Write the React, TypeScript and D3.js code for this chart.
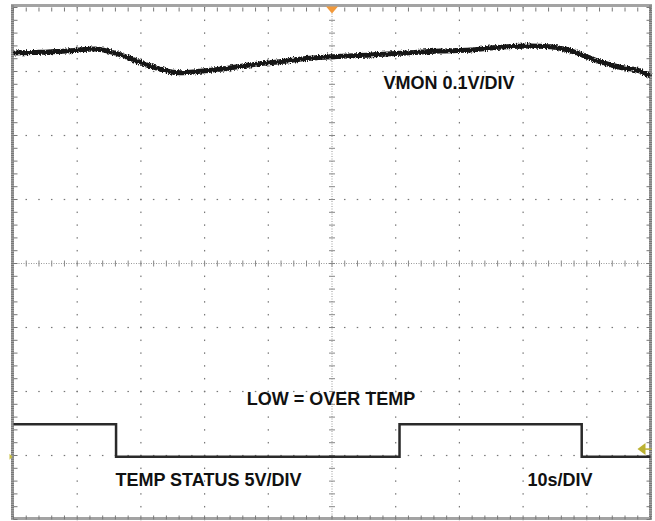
import React, { useRef, useEffect } from 'react';
import * as d3 from 'd3';

// VMON trace: time (s) and level (divisions from screen centre, 0.1V/DIV)
const vmonTime = [0, 4.2, 8.9, 12.8, 15.1, 18.3, 21.4, 24.6, 26.1, 29.3, 32.4, 37.1, 41.8, 46.5, 50.2, 56.0, 60.7, 66.9, 71.7, 76.4, 81.1, 84.2, 86.6, 88.9, 92.0, 95.2, 98.3, 100];
const vmonLevel = [3.29, 3.3, 3.325, 3.35, 3.31, 3.206, 3.086, 2.997, 2.981, 3.003, 3.034, 3.102, 3.153, 3.206, 3.231, 3.258, 3.284, 3.32, 3.336, 3.378, 3.398, 3.388, 3.347, 3.273, 3.153, 3.066, 3.008, 2.93];

// TEMP STATUS: step changes (time in s), 1 = high, 0 = low (5V/DIV)
const tempTime = [0, 16.1, 60.6, 89.2, 100];
const tempState = [1, 0, 1, 0, 0];
const tempHigh = -2.51;
const tempLow = -3.02;

const triggerLevel = -2.9;
const ch2Ground = -3.02;
const triggerTime = 50;

const labels = [
  { text: 'VMON 0.1V/DIV', t: 58.1, v: 2.73 },
  { text: 'LOW = OVER TEMP', t: 36.6, v: -2.215 },
  { text: 'TEMP STATUS 5V/DIV', t: 16.0, v: -3.47 },
  { text: '10s/DIV', t: 80.7, v: -3.47 },
];

const W = 655;
const H = 521;

const App = () => {
  const svgRef = useRef<SVGSVGElement>(null);

  useEffect(() => {
    const svg = d3.select(svgRef.current).attr('width', W).attr('height', H);
    svg.selectAll('*').remove();

    const x = d3.scaleLinear().domain([0, 100]).range([13.5, 650.5]);
    const y = d3.scaleLinear().domain([-4, 4]).range([519.5, 7.5]);

    svg.append('rect').attr('width', W).attr('height', H).attr('fill', '#fff');

    // rough look for the noisy trace
    const defs = svg.append('defs');
    const f = defs.append('filter').attr('id', 'noise').attr('x', '-5%').attr('y', '-50%').attr('width', '110%').attr('height', '200%');
    f.append('feTurbulence').attr('type', 'fractalNoise').attr('baseFrequency', '1.2 0.5').attr('numOctaves', 2).attr('seed', 3).attr('result', 'n');
    f.append('feDisplacementMap').attr('in', 'SourceGraphic').attr('in2', 'n').attr('scale', 4.5).attr('xChannelSelector', 'R').attr('yChannelSelector', 'G');

    const grid = svg.append('g');
    const minorT = d3.range(0, 100.001, 2);
    const minorV = d3.range(-4, 4.001, 0.2);

    // dotted graticule
    d3.range(10, 100, 10).filter(t => t !== 50).forEach(t => {
      grid.selectAll(null).data(minorV).enter().append('rect')
        .attr('x', x(t) - 0.6).attr('y', d => y(d) - 0.75)
        .attr('width', 1.2).attr('height', 1.5).attr('fill', '#777');
    });
    d3.range(-3, 4, 1).filter(v => v !== 0).forEach(v => {
      grid.selectAll(null).data(minorT).enter().append('rect')
        .attr('x', d => x(d) - 0.75).attr('y', y(v) - 0.6)
        .attr('width', 1.5).attr('height', 1.2).attr('fill', '#777');
    });

    // centre crosshair
    grid.append('line').attr('x1', x(0)).attr('x2', x(100)).attr('y1', y(0)).attr('y2', y(0))
      .attr('stroke', '#999').attr('stroke-width', 1).attr('stroke-dasharray', '1,1.5');
    grid.append('line').attr('x1', x(50)).attr('x2', x(50)).attr('y1', y(-4)).attr('y2', y(4))
      .attr('stroke', '#999').attr('stroke-width', 1).attr('stroke-dasharray', '1,1.5');
    grid.selectAll(null).data(minorT).enter().append('line')
      .attr('x1', d => x(d)).attr('x2', d => x(d)).attr('y1', y(0) - 3).attr('y2', y(0) + 3)
      .attr('stroke', '#888').attr('stroke-width', 1);
    grid.selectAll(null).data(minorV).enter().append('line')
      .attr('x1', x(50) - 3).attr('x2', x(50) + 3).attr('y1', d => y(d)).attr('y2', d => y(d))
      .attr('stroke', '#888').attr('stroke-width', 1);

    // border with ruler ticks
    grid.append('rect').attr('x', x(0) - 1).attr('y', y(4) - 2).attr('width', x(100) - x(0) + 1).attr('height', y(-4) - y(4) + 1)
      .attr('fill', 'none').attr('stroke', '#a3a3a3').attr('stroke-width', 3);
    grid.append('path')
      .attr('d', `M${x(0) - 1},${y(4) - 2}V${y(-4) - 1}M${x(100)},${y(4) - 2}V${y(-4) - 1}`)
      .attr('stroke', '#777').attr('stroke-width', 3).attr('stroke-dasharray', '1,1.2');
    grid.selectAll(null).data(minorT).enter().append('line')
      .attr('x1', d => x(d)).attr('x2', d => x(d)).attr('y1', y(4)).attr('y2', y(4) + 4)
      .attr('stroke', '#777').attr('stroke-width', 1);
    grid.selectAll(null).data(minorT).enter().append('line')
      .attr('x1', d => x(d)).attr('x2', d => x(d)).attr('y1', y(-4)).attr('y2', y(-4) - 4)
      .attr('stroke', '#777').attr('stroke-width', 1);
    grid.selectAll(null).data(minorV).enter().append('line')
      .attr('x1', x(0)).attr('x2', x(0) + 4).attr('y1', d => y(d)).attr('y2', d => y(d))
      .attr('stroke', '#777').attr('stroke-width', 1);
    grid.selectAll(null).data(minorV).enter().append('line')
      .attr('x1', x(100)).attr('x2', x(100) - 4).attr('y1', d => y(d)).attr('y2', d => y(d))
      .attr('stroke', '#777').attr('stroke-width', 1);

    // TEMP STATUS trace
    const tempData = tempTime.map((t, i) => ({ t, v: tempState[i] ? tempHigh : tempLow }));
    svg.append('path')
      .datum(tempData)
      .attr('d', d3.line<{ t: number; v: number }>().x(d => x(d.t)).y(d => y(d.v)).curve(d3.curveStepAfter))
      .attr('fill', 'none').attr('stroke', '#2a2a2a').attr('stroke-width', 2.5);

    // VMON trace
    const vmonData = vmonTime.map((t, i) => ({ t, v: vmonLevel[i] }));
    svg.append('path')
      .datum(vmonData)
      .attr('d', d3.line<{ t: number; v: number }>().x(d => x(d.t)).y(d => y(d.v)).curve(d3.curveMonotoneX))
      .attr('fill', 'none').attr('stroke', '#151515').attr('stroke-width', 5)
      .attr('filter', 'url(#noise)');

    // markers
    const tx = x(triggerTime);
    svg.append('path').attr('d', `M${tx - 6},${y(4) - 1}L${tx + 6},${y(4) - 1}L${tx},${y(4) + 6}Z`).attr('fill', '#f2993a');
    const ty = y(triggerLevel);
    svg.append('path').attr('d', `M${x(100) - 13},${ty}L${x(100) - 5},${ty - 6}L${x(100) - 5},${ty + 6}Z`).attr('fill', '#bcb233');
    svg.append('line').attr('x1', x(100) - 6).attr('x2', x(100) + 1).attr('y1', ty).attr('y2', ty).attr('stroke', '#bcb233').attr('stroke-width', 1.5);
    const gy = y(ch2Ground);
    svg.append('path').attr('d', `M${x(0) - 4},${gy - 3}L${x(0) - 1},${gy}L${x(0) - 4},${gy + 3}Z`).attr('fill', '#c9c040');

    // labels
    svg.selectAll('text.lbl').data(labels).enter().append('text')
      .attr('class', 'lbl')
      .attr('x', d => x(d.t)).attr('y', d => y(d.v))
      .attr('font-family', '"Liberation Sans", Arial, sans-serif')
      .attr('font-weight', 'bold').attr('font-size', 18).attr('fill', '#111')
      .text(d => d.text);
  }, []);

  return <svg ref={svgRef} style={{ position: 'absolute', left: 0, top: 0 }}></svg>;
};

export default App;
